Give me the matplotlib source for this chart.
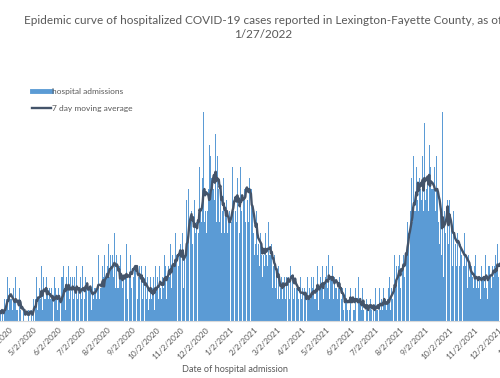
import matplotlib.pyplot as plt
import matplotlib.dates as mdates
from matplotlib.lines import Line2D
import numpy as np
import pandas as pd

# daily hospital admissions, one row per week, starting 3/9/2020
first_day = "2020-03-09"
admissions = [
    0, 1, 0, 2, 1, 0, 1,
    1, 0, 2, 1, 0, 2, 1,
    3, 2, 4, 1, 3, 2, 2,
    2, 1, 3, 0, 2, 4, 1,
    1, 2, 0, 3, 1, 0, 2,
    0, 1, 0, 0, 2, 1, 0,
    1, 0, 2, 0, 1, 0, 2,
    3, 1, 2, 4, 1, 2, 2,
    3, 2, 5, 1, 3, 4, 2,
    2, 4, 1, 3, 2, 3, 2,
    1, 3, 2, 0, 4, 2, 3,
    2, 1, 3, 1, 2, 0, 4,
    4, 2, 5, 3, 1, 4, 2,
    3, 5, 2, 4, 1, 3, 4,
    2, 4, 3, 1, 5, 2, 3,
    3, 1, 4, 2, 5, 3, 2,
    2, 4, 3, 5, 1, 3, 3,
    3, 1, 2, 4, 2, 3, 3,
    4, 2, 3, 6, 2, 3, 3,
    3, 5, 4, 2, 6, 4, 4,
    5, 3, 7, 4, 6, 5, 4,
    6, 4, 8, 3, 5, 6, 3,
    3, 5, 2, 6, 4, 3, 4,
    5, 3, 4, 7, 2, 4, 4,
    4, 6, 3, 7, 5, 4, 5,
    5, 3, 6, 2, 4, 5, 4,
    3, 5, 2, 4, 3, 2, 5,
    2, 4, 1, 3, 2, 4, 2,
    3, 2, 4, 1, 5, 3, 3,
    4, 2, 5, 3, 4, 2, 4,
    3, 6, 4, 5, 2, 4, 5,
    6, 4, 7, 3, 6, 5, 5,
    5, 8, 6, 4, 9, 5, 6,
    7, 4, 6, 8, 3, 6, 7,
    8, 11, 7, 12, 9, 10, 9,
    10, 7, 9, 6, 11, 8, 9,
    9, 12, 8, 14, 10, 9, 10,
    13, 19, 9, 10, 12, 8, 10,
    12, 16, 10, 15, 13, 13, 12,
    14, 11, 17, 9, 15, 12, 12,
    9, 12, 8, 11, 10, 13, 8,
    10, 7, 11, 8, 9, 10, 8,
    12, 9, 14, 10, 13, 11, 10,
    9, 13, 10, 12, 8, 14, 10,
    13, 10, 11, 12, 9, 19, 11,
    11, 9, 13, 10, 8, 12, 10,
    8, 6, 9, 7, 10, 6, 7,
    7, 5, 8, 6, 4, 9, 6,
    5, 8, 6, 7, 5, 9, 6,
    6, 4, 7, 3, 5, 6, 5,
    3, 4, 2, 5, 3, 2, 3,
    4, 2, 5, 3, 4, 2, 4,
    3, 6, 4, 2, 5, 4, 4,
    4, 2, 3, 5, 2, 3, 3,
    2, 3, 1, 4, 2, 3, 3,
    1, 3, 2, 0, 4, 2, 2,
    3, 2, 4, 1, 3, 4, 2,
    2, 4, 3, 5, 1, 3, 3,
    4, 3, 5, 2, 4, 3, 4,
    5, 3, 4, 6, 2, 4, 4,
    3, 5, 2, 4, 3, 5, 3,
    2, 3, 4, 1, 3, 2, 3,
    1, 2, 0, 3, 2, 1, 3,
    2, 1, 3, 0, 2, 4, 1,
    1, 3, 2, 1, 0, 4, 2,
    2, 0, 1, 3, 1, 0, 3,
    0, 2, 1, 0, 3, 1, 2,
    1, 0, 2, 1, 0, 3, 1,
    2, 1, 0, 3, 1, 2, 2,
    1, 3, 2, 0, 2, 1, 2,
    3, 2, 4, 1, 3, 2, 3,
    4, 6, 3, 5, 4, 3, 5,
    6, 3, 7, 4, 5, 6, 4,
    7, 10, 6, 9, 8, 11, 6,
    10, 13, 9, 15, 11, 10, 10,
    14, 11, 17, 10, 13, 12, 11,
    12, 15, 10, 18, 11, 13, 12,
    13, 10, 16, 11, 14, 12, 12,
    12, 9, 14, 10, 15, 12, 10,
    9, 7, 10, 6, 5, 19, 4,
    10, 8, 12, 9, 11, 7, 11,
    8, 6, 9, 5, 10, 7, 8,
    7, 5, 8, 6, 9, 5, 7,
    6, 4, 7, 5, 8, 5, 6,
    5, 3, 6, 4, 5, 3, 5,
    4, 3, 5, 2, 6, 3, 4,
    3, 5, 4, 2, 5, 4, 4,
    4, 3, 6, 3, 4, 2, 5,
    5, 4, 6, 3, 5, 4, 5,
    4, 6, 5, 7, 4, 5, 4,
    6, 4, 7, 5, 6, 4, 4,
]

dates = pd.date_range(first_day, periods=len(admissions), freq="D")
moving_avg = pd.Series(admissions).rolling(7).mean()

blue = "#5B9BD5"
dark = "#44546A"
grey = "#595959"
plt.rcParams["font.family"] = ["Lato", "DejaVu Sans"]

fig = plt.figure(figsize=(5, 3.78), dpi=100)
# the chart is wider than the picture: its right part is cut off
ax = fig.add_axes([0, 57 / 378, 1.2, 220 / 378])

ax.bar(dates, admissions, width=0.9, color=blue, linewidth=0)
ax.plot(dates, moving_avg, color=dark, linewidth=1.7)

x0 = mdates.date2num(pd.Timestamp("2020-03-16")) - 0.5
ax.set_xlim(x0, x0 + 600 / 0.803)
ax.set_ylim(0, 20)

ax.xaxis.set_major_locator(mdates.MonthLocator(bymonthday=2))
ax.xaxis.set_major_formatter(plt.FuncFormatter(
    lambda v, p: "{d.month}/{d.day}/{d.year}".format(d=mdates.num2date(v))))
ax.tick_params(axis="x", length=0, labelsize=6.0, labelcolor=grey, pad=7.2)
for lab in ax.get_xticklabels():
    lab.set_rotation(45)
    lab.set_ha("right")
    lab.set_va("bottom")
    lab.set_rotation_mode("anchor")
ax.set_yticks([])
for s in ["left", "right", "top"]:
    ax.spines[s].set_visible(False)
ax.spines["bottom"].set_color("#D9D9D9")
ax.patch.set_alpha(0)

fig.text(263 / 500, 1 - 20 / 378,
         "Epidemic curve of hospitalized COVID-19 cases reported in Lexington-Fayette County, as of",
         ha="center", va="center", fontsize=8.5, color=grey)
fig.text(263 / 500, 1 - 34 / 378, "1/27/2022",
         ha="center", va="center", fontsize=8.5, color=grey)
fig.text(235 / 500, 1 - 369 / 378, "Date of hospital admission",
         ha="center", va="center", fontsize=6.6, color=grey)

handles = [Line2D([], [], color=blue, linewidth=3.5),
           Line2D([], [], color=dark, linewidth=1.7)]
fig.legend(handles, ["hospital admissions", "7 day moving average"],
           loc="upper left", bbox_to_anchor=(24 / 500, 1 - 80 / 378),
           frameon=False, fontsize=6.0, labelcolor=grey,
           handlelength=2.3, handletextpad=0.15, labelspacing=1.2)

fig.savefig("out.png", dpi=100)
